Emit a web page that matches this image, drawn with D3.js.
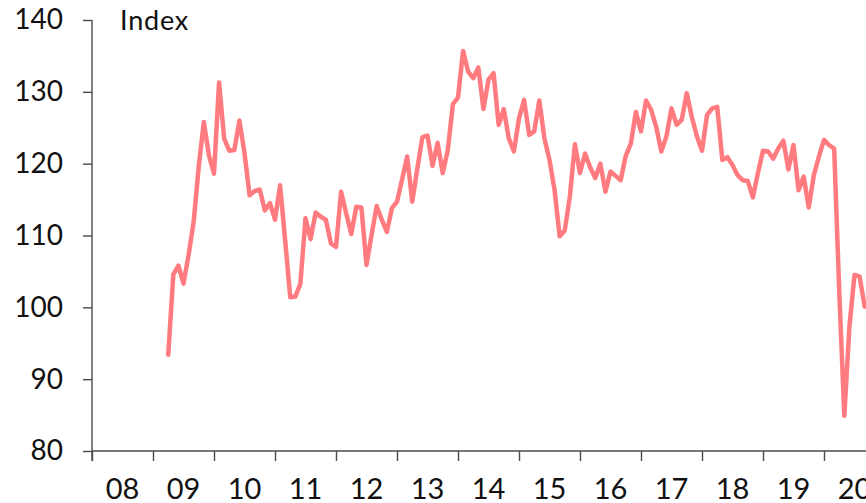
<!DOCTYPE html>
<html>
<head>
<meta charset="utf-8">
<script src="https://cdn.jsdelivr.net/npm/d3@7"></script>
<style>
  html, body { margin: 0; padding: 0; background: #fff; }
  svg { display: block; }
  text { font-family: "Lato", "Liberation Sans", sans-serif; fill: #111; }
</style>
</head>
<body>
<svg id="chart" width="866" height="503"></svg>
<script>
// Monthly index, first observation April 2009
const firstYear = 2009;
const firstMonth = 4;
const values = [
  93.4, 104.6, 105.8, 103.3, 107.3, 111.9, 119.6, 125.8, 121.2,          // 2009 Apr-Dec
  118.6, 131.3, 123.5, 121.8, 121.9, 126.0, 121.5, 115.6, 116.2, 116.4, 113.5, 114.5, // 2010
  112.2, 117.0, 109.3, 101.4, 101.5, 103.3, 112.4, 109.5, 113.2, 112.6, 112.2, 108.9, // 2011
  108.4, 116.1, 113.1, 110.2, 114.0, 113.9, 105.9, 110.1, 114.1, 112.2, 110.5, 113.8, // 2012
  114.7, 117.8, 121.0, 114.7, 119.3, 123.7, 123.9, 119.7, 122.9, 118.7, 121.9, 128.3, // 2013
  129.2, 135.7, 132.8, 131.9, 133.4, 127.6, 131.7, 132.6, 125.4, 127.6, 123.5, 121.7, // 2014
  126.3, 128.9, 124.0, 124.5, 128.8, 123.5, 120.5, 116.3, 109.9, 110.7, 115.4, 122.7, // 2015
  118.7, 121.4, 119.5, 118.0, 120.0, 116.1, 118.9, 118.3, 117.7, 121.1, 122.8, 127.2, // 2016
  124.5, 128.8, 127.5, 125.1, 121.7, 123.8, 127.7, 125.4, 126.1, 129.8, 126.5, 123.8, // 2017
  121.8, 126.8, 127.7, 127.9, 120.5, 120.9, 119.8, 118.4, 117.7, 117.6, 115.3, 118.7, // 2018
  121.8, 121.7, 120.7, 122.1, 123.2, 119.2, 122.6, 116.3, 118.2, 113.9, 118.4, 121.0, // 2019
  123.3, 122.6, 122.1, 102.2, 84.9, 97.3, 104.5, 104.3, 100.1                          // 2020 Jan-Sep
];
const yearLabels = ["08", "09", "10", "11", "12", "13", "14", "15", "16", "17", "18", "19", "20"];
const yTicks = [80, 90, 100, 110, 120, 130, 140];
const unitLabel = "Index";

// months counted from January 2008
const baseYear = 2008;
const series = values.map((v, i) => ({
  m: (firstYear - baseYear) * 12 + (firstMonth - 1) + i,
  v: v
}));

const svg = d3.select("#chart");
const plotLeft = 92, plotTop = 20, plotBottom = 451;

const x = d3.scaleLinear().domain([0, 144]).range([plotLeft, 824]);
const y = d3.scaleLinear().domain([80, 140]).range([plotBottom, plotTop]);

const axisColor = "#4a4a4a";

// y axis
const yAxis = svg.append("g")
  .attr("transform", `translate(${plotLeft},0)`)
  .call(d3.axisLeft(y).tickValues(yTicks).tickSize(9).tickPadding(20).tickFormat(d3.format("d")));
yAxis.select(".domain").attr("stroke", axisColor).attr("stroke-width", 1.4)
  .attr("d", `M0,${plotTop}V${plotBottom + 10}`);
yAxis.selectAll(".tick line").attr("stroke", axisColor).attr("stroke-width", 1.4);
yAxis.selectAll(".tick text")
  .attr("font-size", 28).attr("fill", "#111")
  .style("font-family", "Lato, 'Liberation Sans', sans-serif");

// x axis: ticks at year boundaries, labels centred inside each year
const yearStarts = d3.range(0, yearLabels.length * 12, 12);
const xAxis = svg.append("g")
  .attr("transform", `translate(0,${plotBottom})`)
  .call(d3.axisBottom(x).tickValues(yearStarts).tickSize(10).tickFormat(""));
xAxis.select(".domain").attr("stroke", axisColor).attr("stroke-width", 1.4)
  .attr("d", `M${plotLeft},0H866`);
xAxis.selectAll(".tick line").attr("stroke", axisColor).attr("stroke-width", 1.4);

svg.append("g").selectAll("text")
  .data(yearLabels)
  .join("text")
  .attr("x", (d, i) => x(i * 12 + 6))
  .attr("y", 499)
  .attr("text-anchor", "middle")
  .attr("font-size", 29)
  .text(d => d);

// unit label
svg.append("text")
  .attr("x", 120)
  .attr("y", 30)
  .attr("font-size", 27)
  .attr("letter-spacing", 0.8)
  .text(unitLabel);

// series line
const line = d3.line().x(d => x(d.m)).y(d => y(d.v));
svg.append("path")
  .datum(series)
  .attr("d", line)
  .attr("fill", "none")
  .attr("stroke", "#ff7b80")
  .attr("stroke-width", 4.5)
  .attr("stroke-linejoin", "round")
  .attr("stroke-linecap", "round");
</script>
</body>
</html>
